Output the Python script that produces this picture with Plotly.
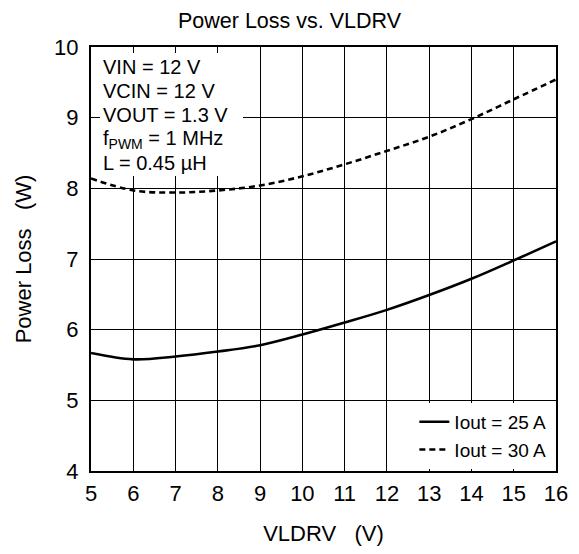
import plotly.graph_objects as go

vldrv = [5, 6, 7, 8, 9, 10, 11, 12, 13, 14, 15, 16]
loss_25a = [5.67, 5.58, 5.62, 5.69, 5.78, 5.93, 6.10, 6.28, 6.49, 6.72, 6.98, 7.25]
loss_30a = [8.14, 7.97, 7.94, 7.97, 8.04, 8.17, 8.34, 8.53, 8.73, 8.98, 9.26, 9.54]
x_ticks = list(range(5, 17))
y_ticks = [4, 5, 6, 7, 8, 9, 10]
series_names = ["Iout = 25 A", "Iout = 30 A"]
conditions = ["VIN = 12 V", "VCIN = 12 V", "VOUT = 1.3 V", "f<sub>PWM</sub> = 1 MHz", "L = 0.45 µH"]

FONT = "Liberation Sans, Arial, sans-serif"
# the page body has an 8px margin; size the figure so the plot lands where the reference's does
OFF = 8
W, H = 579 - 2 * OFF, 554 - 2 * OFF
PX_L, PX_R, PX_T, PX_B = 91, 556, 47, 471   # target plot box in window pixels
L, T = PX_L - OFF, PX_T - OFF
PW, PH = PX_R - PX_L, PX_B - PX_T
R, B = W - L - PW, H - T - PH

def px_x(px):
    return (px - PX_L) / PW

def px_y(py):
    return (PX_B - py) / PH

fig = go.Figure()
fig.add_trace(go.Scatter(x=vldrv, y=loss_25a, mode="lines", name=series_names[0],
                         line=dict(color="black", width=2.6, shape="spline")))
fig.add_trace(go.Scatter(x=vldrv, y=loss_30a, mode="lines", name=series_names[1],
                         line=dict(color="black", width=2.6, dash="6px,4px", shape="spline")))

# white box behind the condition text (hides the gridlines there)
fig.add_shape(type="rect", xref="paper", yref="paper",
              x0=px_x(100), x1=px_x(243), y0=px_y(176), y1=px_y(53),
              fillcolor="white", line=dict(width=0), layer="above")

line_centers = [67, 91, 115, 139, 163]
for txt, cy in zip(conditions, line_centers):
    fig.add_annotation(text=txt, xref="paper", yref="paper",
                       x=px_x(102), y=px_y(cy), xanchor="left", yanchor="middle",
                       align="left", showarrow=False, borderpad=0,
                       font=dict(family=FONT, size=20, color="black"))

fig.update_layout(
    width=W, height=H,
    margin=dict(l=L, r=R, t=T, b=B, pad=0),
    paper_bgcolor="white", plot_bgcolor="white",
    font=dict(family=FONT, size=20, color="black"),
    title=dict(text="Power Loss vs. VLDRV", x=0.5, xref="container", xanchor="center",
               y=1 - (20 - OFF) / H, yref="container", yanchor="middle",
               font=dict(family=FONT, size=21.5, color="black")),
    showlegend=True,
    legend=dict(x=0.99, y=0.005, xanchor="right", yanchor="bottom",
                bgcolor="white", borderwidth=0, tracegroupgap=0,
                font=dict(family=FONT, size=19, color="black")),
    xaxis=dict(range=[5, 16], tickvals=x_ticks, showgrid=True, gridcolor="black", gridwidth=1,
               showline=True, linecolor="black", linewidth=2, mirror=True, zeroline=False,
               automargin=False,
               ticks="", tickfont=dict(size=22), ticklabelstandoff=2,
               title=dict(text="VLDRV\u00a0\u00a0\u00a0(V)", standoff=23, font=dict(size=22))),
    yaxis=dict(range=[4, 10], tickvals=y_ticks, showgrid=True, gridcolor="black", gridwidth=1,
               showline=True, linecolor="black", linewidth=2, mirror=True, zeroline=False,
               automargin=False,
               ticks="", tickfont=dict(size=22), ticklabelstandoff=6,
               title=dict(text="Power Loss\u00a0\u00a0\u00a0(W)", standoff=16, font=dict(size=22))),
)

fig.write_html("out.html")
